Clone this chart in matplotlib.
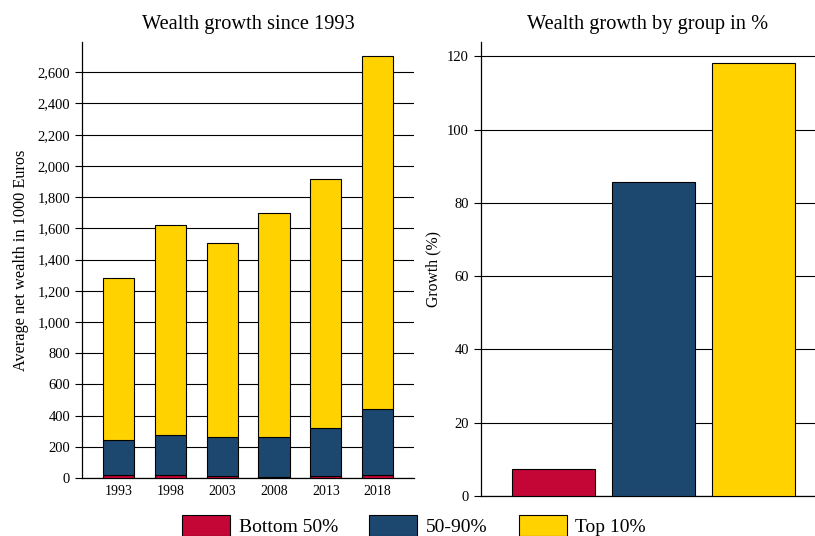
import matplotlib
matplotlib.use("Agg")
import matplotlib.pyplot as plt
from matplotlib.ticker import FuncFormatter, MultipleLocator
from matplotlib.patches import Patch

plt.rcParams['font.family'] = ['Liberation Serif', 'DejaVu Serif']

years = ["1993", "1998", "2003", "2008", "2013", "2018"]
bottom50 = [19, 18, 13, 8, 14, 22]
middle40 = [225, 258, 250, 255, 307, 421]
top10 = [1040, 1348, 1245, 1438, 1592, 2259]

groups = ["Bottom 50%", "50-90%", "Top 10%"]
growth = [7.4, 85.8, 118.1]

colors = ["#C40636", "#1C4870", "#FFD200"]

fig = plt.figure(figsize=(8.15, 5.36), dpi=100)
ax1 = fig.add_axes([0.1006, 0.108, 0.4074, 0.814])
ax2 = fig.add_axes([0.590, 0.0746, 0.41, 0.8474])

x = list(range(len(years)))
w = 0.6
b2 = [a + b for a, b in zip(bottom50, middle40)]
ax1.bar(x, bottom50, w, color=colors[0], edgecolor="black", linewidth=0.8, zorder=3)
ax1.bar(x, middle40, w, bottom=bottom50, color=colors[1], edgecolor="black", linewidth=0.8, zorder=3)
ax1.bar(x, top10, w, bottom=b2, color=colors[2], edgecolor="black", linewidth=0.8, zorder=3)
ax1.set_xlim(-0.7, 5.7)
ax1.set_ylim(0, 2795)
ax1.yaxis.set_major_locator(MultipleLocator(200))
ax1.yaxis.set_major_formatter(FuncFormatter(lambda v, p: f"{int(v):,}"))
ax1.set_xticks(x)
ax1.set_xticklabels(years)
ax1.tick_params(axis="x", length=0, labelsize=10, pad=5)
ax1.tick_params(axis="y", labelsize=10.5, length=5, width=0.8)
ax1.grid(axis="y", color="black", linewidth=0.8, zorder=0)
for s in ["top", "right"]:
    ax1.spines[s].set_visible(False)
ax1.spines["left"].set_linewidth(0.9)
ax1.spines["bottom"].set_linewidth(0.9)
ax1.set_ylabel("Average net wealth in 1000 Euros", fontsize=11.7, labelpad=6)
ax1.set_title("Wealth growth since 1993", fontsize=14.7, pad=9)

x2 = list(range(len(groups)))
ax2.bar(x2, growth, 0.83, color=colors, edgecolor="black", linewidth=0.8, zorder=3)
ax2.set_xlim(-0.73, 2.62)
ax2.set_ylim(0, 124)
ax2.yaxis.set_major_locator(MultipleLocator(20))
ax2.set_xticks([])
ax2.tick_params(axis="y", labelsize=10.5, length=5, width=0.8)
ax2.grid(axis="y", color="black", linewidth=0.8, zorder=0)
for s in ["top", "right"]:
    ax2.spines[s].set_visible(False)
ax2.spines["left"].set_linewidth(0.9)
ax2.spines["bottom"].set_linewidth(0.9)
ax2.set_ylabel("Growth (%)", fontsize=11.3)
ax2.set_title("Wealth growth by group in %", fontsize=14.7, pad=9)

handles = [Patch(facecolor=c, edgecolor="black", linewidth=0.8) for c in colors]
fig.legend(handles, groups, loc="lower center", bbox_to_anchor=(0.508, -0.033), ncol=3,
           frameon=False, fontsize=14, handlelength=2.47, handleheight=1.25,
           columnspacing=1.6, handletextpad=0.45)

fig.savefig("out.png", dpi=100)
